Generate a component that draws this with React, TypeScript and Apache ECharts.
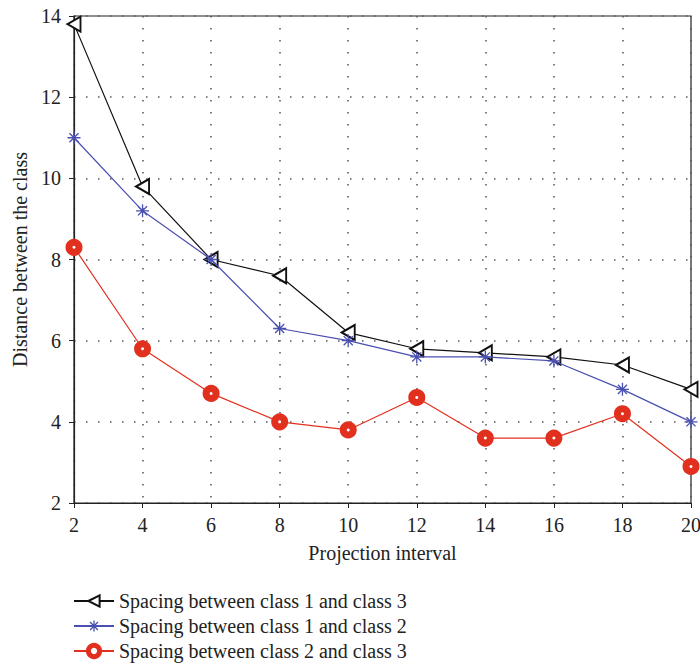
import React, { useEffect, useRef } from "react";
import * as echarts from "echarts";

const xValues = [2, 4, 6, 8, 10, 12, 14, 16, 18, 20];
const s13 = [13.8, 9.8, 8.0, 7.6, 6.2, 5.8, 5.7, 5.6, 5.4, 4.8];
const s12 = [11.0, 9.2, 8.0, 6.3, 6.0, 5.6, 5.6, 5.5, 4.8, 4.0];
const s23 = [8.3, 5.8, 4.7, 4.0, 3.8, 4.6, 3.6, 3.6, 4.2, 2.9];
const names = [
  "Spacing between class 1 and class 3",
  "Spacing between class 1 and class 2",
  "Spacing between class 2 and class 3",
];

const FONT = "Liberation Serif";
const FS = 20;
const ASTER = "path://M0,-10L0,10M-10,0L10,0M-7,-7L7,7M-7,7L7,-7";

export default function App() {
  const ref = useRef<HTMLDivElement>(null);
  useEffect(() => {
    const chart = echarts.init(ref.current!, undefined, { renderer: "svg" });
    const pair = (arr: number[]) => xValues.map((x, i) => [x, arr[i]]);
    chart.setOption({
      animation: false,
      textStyle: { fontFamily: FONT },
      grid: {
        left: 74, top: 16, right: 9, bottom: 164,
        outerBoundsMode: "none", containLabel: false,
        show: true, borderColor: "#222", borderWidth: 1.2, backgroundColor: "transparent",
      },
      legend: {
        orient: "vertical", left: 68, top: 586, height: 90, itemWidth: 40, itemHeight: 14, itemGap: 5,
        textStyle: { fontFamily: FONT, fontSize: FS, color: "#222" },
        data: [
          { name: names[0], itemStyle: { borderWidth: 1.2 } },
          { name: names[1], itemStyle: { borderWidth: 1.3 } },
          { name: names[2], itemStyle: { borderWidth: 5 } },
        ],
      },
      xAxis: {
        type: "value", min: 2, max: 20, interval: 2,
        name: "Projection interval", nameLocation: "middle", nameGap: 40,
        nameTextStyle: { fontFamily: FONT, fontSize: FS, color: "#222" },
        axisLine: { show: true, lineStyle: { color: "#222", width: 1.2 } },
        axisTick: { show: true, inside: false, length: 5, lineStyle: { color: "#222" } },
        axisLabel: { fontFamily: FONT, fontSize: FS, color: "#222", margin: 12 },
        splitLine: { show: true, lineStyle: { type: [1.5, 10.5], color: "#555", width: 1.5 } },
      },
      yAxis: {
        type: "value", min: 2, max: 14, interval: 2,
        name: "Distance between the class", nameLocation: "middle", nameGap: 44,
        nameTextStyle: { fontFamily: FONT, fontSize: FS, color: "#222" },
        axisLine: { show: true, lineStyle: { color: "#222", width: 1.2 } },
        axisTick: { show: true, inside: false, length: 5, lineStyle: { color: "#222" } },
        axisLabel: { fontFamily: FONT, fontSize: FS, color: "#222", margin: 13 },
        splitLine: { show: true, lineStyle: { type: [1.5, 10.5], color: "#555", width: 1.5 } },
      },
      series: [
        {
          name: names[0], type: "line", data: pair(s13),
          symbol: "emptyTriangle", symbolSize: [15, 13], symbolRotate: 90,
          lineStyle: { color: "#111", width: 1.2 },
          itemStyle: { color: "#111", borderColor: "#111", borderWidth: 1.2 },
          z: 3,
        },
        {
          name: names[1], type: "line", data: pair(s12),
          symbol: ASTER, symbolSize: 13,
          lineStyle: { color: "#4a50b0", width: 1.2 },
          itemStyle: { color: "#4a50b0", borderColor: "#4a50b0", borderWidth: 1.3 },
          z: 4,
        },
        {
          name: names[2], type: "line", data: pair(s23),
          symbol: "circle", symbolSize: 10,
          lineStyle: { color: "#e2301f", width: 1.2 },
          itemStyle: { color: "#ffffff", borderColor: "#e2301f", borderWidth: 7 },
          z: 5,
        },
      ],
    });
    return () => chart.dispose();
  }, []);
  return <div ref={ref} style={{ width: 700, height: 667, position: "absolute", left: 0, top: 0 }} />;
}
